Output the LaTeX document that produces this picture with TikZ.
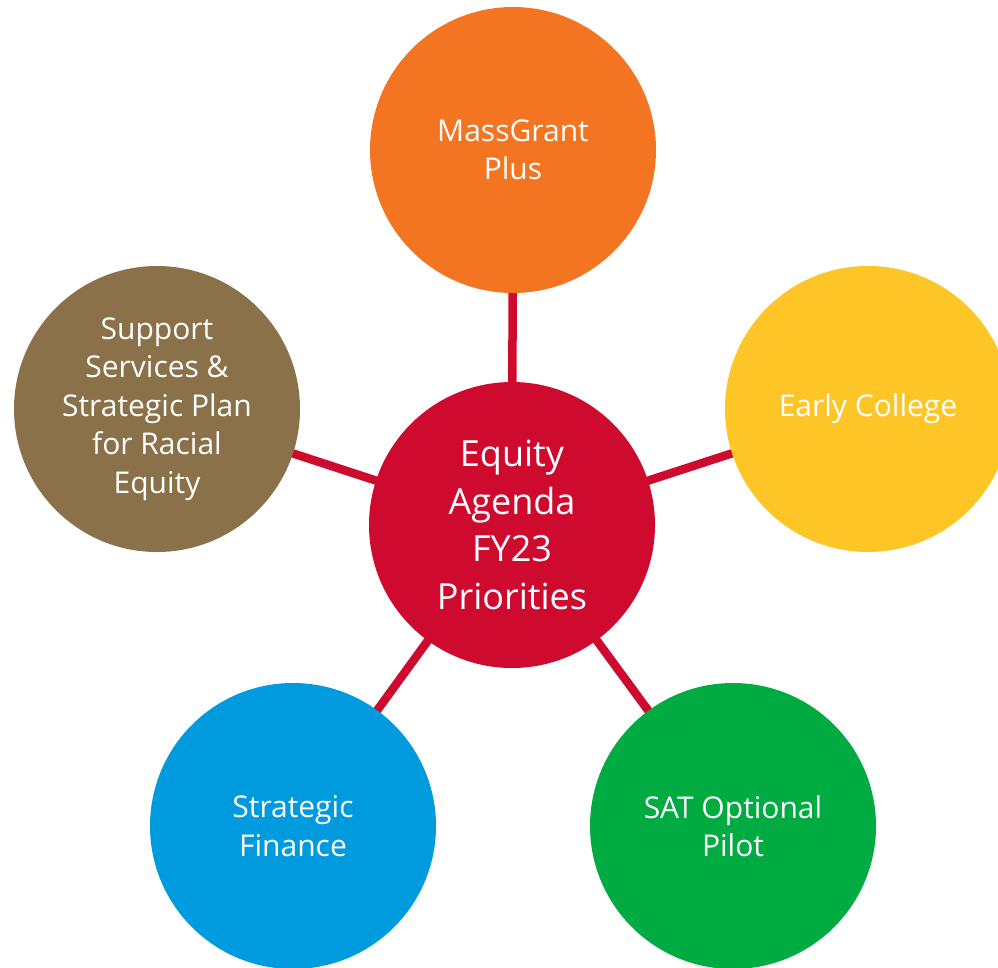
\documentclass[tikz,border=0pt]{standalone}
\usepackage{fontspec}
\setmainfont{Open Sans}
\usetikzlibrary{backgrounds}
\definecolor{cred}{HTML}{CE0A2F}
\definecolor{corange}{HTML}{F47521}
\definecolor{cyellow}{HTML}{FDC526}
\definecolor{cgreen}{HTML}{00AC41}
\definecolor{cblue}{HTML}{009ADE}
\definecolor{cbrown}{HTML}{8B7149}
\begin{document}
\begin{tikzpicture}[x=1pt,y=1pt,
  bubble/.style={circle,minimum size=286pt,inner sep=0pt,text=white,align=center,
    font=\fontsize{30}{38.5}\selectfont},
  hub/.style={bubble,fill=cred,font=\fontsize{36}{47.5}\selectfont},
  spoke/.style={draw=cred,line width=8.5pt}]
\useasboundingbox (0,0) rectangle (998,-967);
\begin{scope}
\clip (0,0) rectangle (998,-967);
\node[hub] (c) at (512,-525) {Equity\\Agenda\\FY23\\Priorities};
\node[bubble,fill=corange] (t) at (513,-150) {MassGrant\\Plus};
\node[bubble,fill=cyellow] (r) at (868,-409) {Early College};
\node[bubble,fill=cgreen] (br) at (733,-826) {SAT Optional\\Pilot};
\node[bubble,fill=cblue] (bl) at (293,-826) {Strategic\\Finance};
\node[bubble,fill=cbrown] (l) at (157,-409) {Support\\Services \&\\Strategic Plan\\for Racial\\Equity};
\begin{pgfonlayer}{background}
\draw[spoke] (c.center) -- (t.center);
\draw[spoke] (c.center) -- (r.center);
\draw[spoke] (c.center) -- (br.center);
\draw[spoke] (c.center) -- (bl.center);
\draw[spoke] (c.center) -- (l.center);
\end{pgfonlayer}
\end{scope}
\end{tikzpicture}
\end{document}
